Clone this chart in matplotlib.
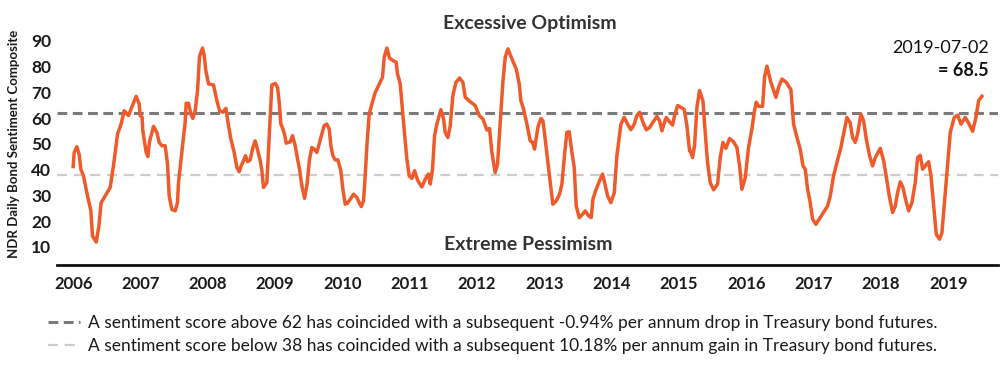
import matplotlib
matplotlib.use("Agg")
import matplotlib.pyplot as plt
import numpy as np

plt.rcParams['font.family'] = ['Lato', 'DejaVu Sans']

# years since 2006-01-01
t = [0.0, 0.015, 0.055, 0.089, 0.114, 0.154, 0.203, 0.263, 0.287, 0.342, 0.382, 0.416,
     0.476, 0.550, 0.599, 0.659, 0.713, 0.758, 0.822, 0.882, 0.936, 0.981, 0.996, 1.025,
     1.035, 1.085, 1.110, 1.134, 1.194, 1.243, 1.278, 1.318, 1.367, 1.402, 1.427, 1.466,
     1.516, 1.550, 1.565, 1.615, 1.664, 1.679, 1.714, 1.749, 1.778, 1.813, 1.848, 1.877,
     1.922, 1.947, 1.971, 2.011, 2.085, 2.135, 2.175, 2.224, 2.269, 2.308, 2.343, 2.392,
     2.432, 2.467, 2.496, 2.531, 2.561, 2.591, 2.630, 2.670, 2.704, 2.744, 2.779, 2.804,
     2.828, 2.878, 2.903, 2.927, 2.952, 3.002, 3.036, 3.061, 3.086, 3.116, 3.140, 3.165,
     3.225, 3.259, 3.299, 3.334, 3.363, 3.398, 3.438, 3.472, 3.512, 3.546, 3.581, 3.621,
     3.680, 3.730, 3.769, 3.804, 3.829, 3.859, 3.893, 3.933, 3.977, 4.007, 4.042, 4.076,
     4.116, 4.166, 4.215, 4.250, 4.280, 4.314, 4.339, 4.364, 4.398, 4.438, 4.488,
     4.537, 4.596, 4.621, 4.661, 4.700, 4.750, 4.799, 4.819, 4.859, 4.908, 4.958, 4.993,
     5.032, 5.072, 5.121, 5.181, 5.230, 5.280, 5.305, 5.339, 5.369, 5.404, 5.463, 5.503,
     5.527, 5.567, 5.602, 5.641, 5.686, 5.740, 5.790, 5.825, 5.899, 5.973, 6.033, 6.087,
     6.147, 6.186, 6.221, 6.270, 6.305, 6.345, 6.384, 6.419, 6.459, 6.508, 6.582, 6.627,
     6.652, 6.691, 6.741, 6.790, 6.825, 6.855, 6.904, 6.949, 6.979, 7.013, 7.053, 7.088,
     7.127, 7.177, 7.226, 7.261, 7.301, 7.335, 7.370, 7.410, 7.444, 7.474, 7.519, 7.568,
     7.608, 7.657, 7.697, 7.722, 7.761, 7.816, 7.865, 7.895, 7.940, 7.989, 8.039, 8.078,
     8.138, 8.187, 8.237, 8.286, 8.336, 8.375, 8.415, 8.465, 8.514, 8.564, 8.613, 8.673,
     8.712, 8.747, 8.782, 8.811, 8.861, 8.905, 8.935, 8.980, 9.029, 9.079, 9.118, 9.158,
     9.168, 9.202, 9.232, 9.267, 9.306, 9.356, 9.390, 9.425, 9.465, 9.514, 9.574, 9.613,
     9.653, 9.698, 9.752, 9.811, 9.861, 9.901, 9.935, 9.985, 10.034, 10.084, 10.119, 10.148,
     10.183, 10.242, 10.272, 10.307, 10.366, 10.441, 10.480, 10.530, 10.594, 10.663, 10.703,
     10.753, 10.802, 10.842, 10.876, 10.911, 10.951, 10.985, 11.035, 11.089, 11.149, 11.208,
     11.248, 11.297, 11.347, 11.406, 11.456, 11.495, 11.545, 11.580, 11.619, 11.654, 11.703,
     11.743, 11.783, 11.832, 11.877, 11.917, 11.991, 12.041, 12.090, 12.125, 12.174, 12.214,
     12.248, 12.288, 12.328, 12.367, 12.412, 12.461, 12.511, 12.546, 12.585, 12.620, 12.659,
     12.709, 12.744, 12.783, 12.823, 12.872, 12.907, 12.957, 12.996, 13.031, 13.071, 13.090,
     13.140, 13.190, 13.254, 13.303, 13.363, 13.412, 13.452, 13.501]

sentiment = [41.2, 46.7, 48.9, 46.0, 40.2, 37.6, 31.1, 24.0, 14.3, 11.9, 18.1, 27.2,
             29.8, 33.1, 41.5, 53.8, 57.7, 62.9, 61.0, 64.9, 68.5, 65.5, 61.0, 60.3,
             55.1, 46.7, 45.1, 50.8, 56.8, 54.5, 50.6, 49.3, 49.3, 42.2, 29.8, 24.6,
             24.0, 27.2, 35.0, 46.7, 58.4, 65.8, 65.8, 61.6, 59.9, 62.9, 70.7, 84.0,
             87.2, 84.3, 78.5, 73.3, 72.9, 66.8, 62.9, 62.3, 63.8, 57.1, 51.9, 46.7,
             40.9, 39.2, 41.5, 43.5, 45.4, 43.1, 43.8, 48.6, 51.2, 47.3, 43.5, 39.6,
             33.1, 35.0, 48.0, 61.0, 72.9, 73.5, 72.0, 66.2, 57.7, 55.8, 53.8, 50.3,
             50.8, 53.2, 49.3, 44.1, 40.2, 33.7, 28.9, 33.7, 44.1, 48.6, 48.0, 46.7,
             52.5, 57.1, 57.7, 55.8, 49.3, 45.4, 43.8, 43.8, 39.6, 32.4, 26.6, 27.0,
             28.5, 30.5, 29.2, 27.2, 25.7, 27.9, 37.6, 49.3, 61.6, 65.5, 70.0,
             72.6, 75.9, 83.7, 87.2, 83.3, 82.4, 81.7, 77.2, 73.3, 58.4, 44.1, 37.6,
             36.6, 39.6, 35.7, 33.3, 36.3, 38.3, 34.4, 40.2, 53.2, 57.7, 63.3, 59.7,
             54.5, 52.5, 57.1, 68.7, 73.9, 75.6, 73.9, 68.1, 66.4, 64.9, 61.0, 59.7,
             55.4, 56.0, 46.7, 38.9, 42.2, 58.4, 73.9, 83.7, 86.9, 83.7, 79.1, 73.3,
             66.8, 63.6, 57.7, 51.2, 50.6, 48.0, 56.4, 59.9, 59.0, 51.9, 42.8, 35.0,
             26.6, 27.9, 30.5, 34.4, 46.0, 54.5, 54.7, 46.7, 40.9, 25.9, 21.4, 22.7,
             24.0, 22.1, 21.4, 28.5, 31.8, 35.4, 38.3, 35.0, 29.8, 27.2, 31.1, 45.4,
             57.7, 60.3, 57.7, 55.5, 57.7, 61.0, 62.3, 58.4, 55.5, 56.4, 58.4, 60.7,
             59.0, 55.1, 58.1, 60.3, 58.6, 57.3, 61.0, 64.9, 64.2, 63.3, 57.1, 47.3,
             47.3, 44.7, 49.3, 64.2, 70.7, 66.8, 54.5, 42.8, 35.0, 32.2, 34.4, 44.7,
             50.6, 48.3, 52.1, 50.8, 48.6, 41.5, 32.4, 36.9, 48.6, 55.8, 62.3, 66.2,
             64.6, 64.6, 75.9, 80.2, 73.9, 68.1, 72.0, 75.2, 73.9, 71.1, 57.7,
             52.5, 48.0, 41.5, 40.2, 32.4, 27.2, 20.8, 18.8, 21.0, 23.4, 25.9,
             29.8, 37.6, 42.8, 48.6, 55.1, 60.3, 58.1, 52.5, 50.6, 53.8, 61.6,
             59.0, 51.9, 45.4, 41.5, 44.7, 48.3, 43.5, 35.7, 29.8, 23.4, 25.9,
             31.1, 35.3, 33.1, 28.5, 24.0, 27.2, 35.0, 44.7, 45.6, 40.2, 41.5,
             43.1, 37.6, 26.6, 14.9, 13.0, 15.5, 31.1, 42.8, 54.5, 58.4, 60.3,
             61.2, 57.7, 60.3, 58.1, 54.9, 60.3, 66.8, 68.5]

years = np.arange(2006, 2020)
upper = 62
lower = 38
upper_text = ("A sentiment score above 62 has coincided with a subsequent -0.94% per annum "
              "drop in Treasury bond futures.")
lower_text = ("A sentiment score below 38 has coincided with a subsequent 10.18% per annum "
              "gain in Treasury bond futures.")

x = 2006 + np.array(t)

fig = plt.figure(figsize=(10, 3.88), dpi=100)
ax = fig.add_axes([0.057, 0.317, 0.941, 0.644])

l1 = ax.axhline(upper, color='#7a7a7a', lw=2.2, dashes=(3.2, 1.8), label=upper_text, zorder=1)
l2 = ax.axhline(lower, color='#cccccc', lw=1.6, dashes=(4.5, 3.0), label=lower_text, zorder=1)
ax.plot(x, sentiment, color='#ef5a2b', lw=2.5, solid_joinstyle='round', zorder=3)

ax.set_xlim(2005.76, 2019.74)
ax.set_ylim(3, 100)
ax.set_xticks(years)
ax.set_xticklabels([str(y) for y in years], fontsize=12, fontweight='bold', color='#1a1a1a')
ax.set_yticks(np.arange(10, 100, 10))
ax.set_yticklabels([str(v) for v in range(10, 100, 10)], fontsize=12.5, fontweight='bold',
                   color='#1a1a1a')
ax.tick_params(axis='both', length=0)
ax.tick_params(axis='x', pad=8)
ax.tick_params(axis='y', pad=4)
for s in ['top', 'right', 'left']:
    ax.spines[s].set_visible(False)
ax.spines['bottom'].set_linewidth(2)
ax.spines['bottom'].set_color('#111111')

ax.text(2012.79, 96.8, 'Excessive Optimism', ha='center', va='center', fontsize=14,
        fontweight='bold', color='#333333', clip_on=False)
ax.text(2012.76, 10.9, 'Extreme Pessimism', ha='center', va='center', fontsize=14,
        fontweight='bold', color='#333333')
ax.text(2019.6, 87.1, '2019-07-02', ha='right', va='center', fontsize=13, color='#111111')
ax.text(2019.6, 78.4, '= 68.5', ha='right', va='center', fontsize=13, fontweight='bold',
        color='#111111')

fig.text(0.014, 0.628, 'NDR Daily Bond Sentiment Composite', rotation=90, ha='center',
         va='center', fontsize=9.5, fontweight='bold', color='#1a1a1a')

fig.legend(handles=[l1, l2], loc='upper left', bbox_to_anchor=(0.032, 0.228), frameon=False,
           fontsize=12.5, handlelength=1.85, handletextpad=0.5, labelspacing=0.37,
           labelcolor='#1a1a1a')

fig.savefig('out.png', dpi=100)
